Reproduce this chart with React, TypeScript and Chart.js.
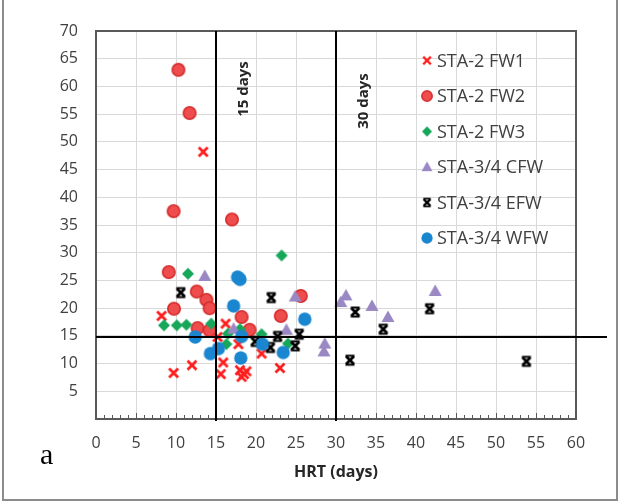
import React, { useEffect, useRef } from 'react';
import { Chart, registerables } from 'chart.js';

Chart.register(...registerables);

// ---- data ----
const seriesLabels = ['STA-2 FW1', 'STA-2 FW2', 'STA-2 FW3', 'STA-3/4 CFW', 'STA-3/4 EFW', 'STA-3/4 WFW'];

const fw1X = [13.4, 8.2, 16.2, 9.7, 12.0, 15.9, 15.6, 17.8, 18.0, 18.5, 18.2, 18.8, 20.7, 23.0, 15.2];
const fw1Y = [48.2, 18.6, 17.2, 8.3, 9.7, 10.2, 8.1, 13.5, 8.8, 8.1, 7.6, 8.6, 11.8, 9.2, 14.8];

const fw2X = [10.3, 11.7, 9.7, 17.0, 9.1, 12.6, 13.8, 14.2, 9.75, 12.7, 14.2, 18.2, 23.1, 25.6, 19.2];
const fw2Y = [63.0, 55.2, 37.5, 36.0, 26.5, 23.0, 21.5, 20.0, 19.9, 16.4, 16.0, 18.4, 18.6, 22.2, 16.1];

const fw3X = [11.5, 8.5, 10.1, 11.3, 14.4, 16.5, 16.3, 18.0, 20.7, 23.2, 24.0];
const fw3Y = [26.2, 16.9, 16.9, 17.0, 17.2, 15.4, 13.5, 16.2, 15.3, 29.5, 13.6];

const cfwX = [13.6, 17.2, 24.9, 23.8, 28.6, 28.5, 30.6, 31.25, 34.5, 36.5, 42.4];
const cfwY = [25.8, 16.3, 22.1, 16.1, 13.6, 12.2, 21.1, 22.3, 20.4, 18.4, 23.1];

const efwX = [10.6, 21.9, 22.7, 25.4, 19.9, 21.8, 24.9, 32.4, 35.9, 41.7, 31.75, 53.8];
const efwY = [22.8, 21.9, 14.9, 15.3, 14.0, 12.9, 13.2, 19.3, 16.2, 19.9, 10.6, 10.4];

const wfwX = [12.4, 14.3, 15.3, 17.7, 18.0, 17.2, 26.1, 18.2, 20.8, 23.4, 18.1];
const wfwY = [14.8, 11.8, 12.7, 25.6, 25.2, 20.4, 18.0, 14.9, 13.5, 12.0, 11.0];

const hrtLines = [15, 30];
const hrtLineLabels = ['15 days', '30 days'];
const thresholdY = 14.8;

const xTickMin = 0;
const xTickMax = 60;
const yTickMin = 0;
const yTickMax = 70;
const tickStep = 5;

// ---- markers ----
function makeMarker(kind: string): HTMLCanvasElement {
  const c = document.createElement('canvas');
  const s = 16;
  c.width = s;
  c.height = s;
  const g = c.getContext('2d') as CanvasRenderingContext2D;
  const m = s / 2;
  g.lineCap = 'butt';
  if (kind === 'x') {
    g.strokeStyle = '#FF1E1E';
    g.lineWidth = 2.8;
    g.beginPath();
    g.moveTo(m - 4.5, m - 4.5); g.lineTo(m + 4.5, m + 4.5);
    g.moveTo(m + 4.5, m - 4.5); g.lineTo(m - 4.5, m + 4.5);
    g.stroke();
  } else if (kind === 'redCircle') {
    g.fillStyle = '#EF4D4D';
    g.strokeStyle = '#D52C2C';
    g.lineWidth = 1.6;
    g.beginPath();
    g.arc(m, m, 6.2, 0, Math.PI * 2);
    g.fill();
    g.stroke();
  } else if (kind === 'diamond') {
    g.fillStyle = '#17A75A';
    g.beginPath();
    g.moveTo(m, m - 6); g.lineTo(m + 6, m); g.lineTo(m, m + 6); g.lineTo(m - 6, m);
    g.closePath();
    g.fill();
  } else if (kind === 'triangle') {
    g.fillStyle = '#9A88C4';
    g.beginPath();
    g.moveTo(m, m - 6.5); g.lineTo(m + 6.5, m + 5); g.lineTo(m - 6.5, m + 5);
    g.closePath();
    g.fill();
  } else if (kind === 'star') {
    g.strokeStyle = '#000';
    g.lineWidth = 2.8;
    g.beginPath();
    g.moveTo(m - 4, m - 4); g.lineTo(m + 4, m + 4);
    g.moveTo(m + 4, m - 4); g.lineTo(m - 4, m + 4);
    g.stroke();
    g.lineWidth = 2;
    g.beginPath();
    g.moveTo(m - 4.5, m - 4.5); g.lineTo(m + 4.5, m - 4.5);
    g.moveTo(m - 4.5, m + 4.5); g.lineTo(m + 4.5, m + 4.5);
    g.stroke();
  } else {
    g.fillStyle = '#1A86CF';
    g.beginPath();
    g.arc(m, m, 6.7, 0, Math.PI * 2);
    g.fill();
  }
  return c;
}

const markerKinds = ['x', 'redCircle', 'diamond', 'triangle', 'star', 'blueCircle'];

function pts(xs: number[], ys: number[]) {
  return xs.map((x, i) => ({ x, y: ys[i] }));
}

const TICK_FONT = { family: '"Open Sans", sans-serif', size: 16 };

export default function App() {
  const ref = useRef<HTMLCanvasElement | null>(null);

  useEffect(() => {
    const canvas = ref.current;
    if (!canvas) return;
    const markers = markerKinds.map(makeMarker);
    const allX = [fw1X, fw2X, fw3X, cfwX, efwX, wfwX];
    const allY = [fw1Y, fw2Y, fw3Y, cfwY, efwY, wfwY];

    const decor = {
      id: 'decor',
      afterDatasetsDraw(chart: any) {
        const { ctx, chartArea: a, scales } = chart;
        const x = scales.x;
        const y = scales.y;
        ctx.save();
        // minor/major ticks inside bottom axis
        ctx.strokeStyle = '#595959';
        ctx.lineWidth = 1;
        ctx.beginPath();
        for (let v = xTickMin; v <= xTickMax; v++) {
          const px = Math.round(x.getPixelForValue(v)) + 0.5;
          const len = v % tickStep === 0 ? 6 : 4;
          ctx.moveTo(px, a.bottom);
          ctx.lineTo(px, a.bottom - len);
        }
        ctx.stroke();
        // plot frame
        ctx.strokeStyle = '#595959';
        ctx.lineWidth = 2;
        ctx.strokeRect(a.left, a.top, a.right - a.left, a.bottom - a.top);
        // reference lines
        ctx.strokeStyle = '#000';
        ctx.lineWidth = 2;
        ctx.beginPath();
        hrtLines.forEach((v) => {
          const px = x.getPixelForValue(v);
          ctx.moveTo(px, a.top);
          ctx.lineTo(px, a.bottom + 2);
        });
        const py = y.getPixelForValue(thresholdY);
        ctx.moveTo(a.left, py);
        ctx.lineTo(a.right + 31, py);
        ctx.stroke();
        // rotated labels
        ctx.fillStyle = '#262626';
        ctx.font = 'bold 15px "Open Sans", sans-serif';
        ctx.textAlign = 'center';
        ctx.textBaseline = 'middle';
        const labelY = [89, 101];
        hrtLines.forEach((v, i) => {
          const px = x.getPixelForValue(v) + 28;
          ctx.save();
          ctx.translate(px, labelY[i]);
          ctx.rotate(-Math.PI / 2);
          ctx.fillText(hrtLineLabels[i], 0, 0);
          ctx.restore();
        });
        // legend
        ctx.font = '18px "Open Sans", sans-serif';
        ctx.fillStyle = '#404040';
        ctx.textAlign = 'left';
        ctx.textBaseline = 'middle';
        seriesLabels.forEach((lab, i) => {
          const ly = 60.5 + i * 35.5;
          const mk = markers[i];
          const sz = 13.5;
          ctx.drawImage(mk, 427 - sz / 2, ly - sz / 2, sz, sz);
          ctx.fillText(lab, 437, ly + 1);
        });
        // panel letter
        ctx.fillStyle = '#000';
        ctx.font = '30px "Liberation Serif", serif';
        ctx.textBaseline = 'alphabetic';
        ctx.fillText('a', 40, 464);
        // outer frame
        ctx.strokeStyle = '#8c8c8c';
        ctx.lineWidth = 2;
        ctx.beginPath();
        ctx.moveTo(3, 0);
        ctx.lineTo(3, 500);
        ctx.lineTo(617, 500);
        ctx.lineTo(617, 0);
        ctx.stroke();
        ctx.restore();
      },
    };

    const chart = new Chart(canvas, {
      type: 'scatter',
      data: {
        datasets: seriesLabels.map((label, i) => ({
          label,
          data: pts(allX[i], allY[i]),
          pointStyle: markers[i] as any,
          pointRadius: 7,
          showLine: false,
          order: 6 - i,
        })),
      },
      options: {
        responsive: false,
        animation: false,
        layout: { padding: { top: 31, right: 52, left: 0, bottom: 0 } },
        plugins: { legend: { display: false }, tooltip: { enabled: false } },
        scales: {
          x: {
            type: 'linear',
            min: xTickMin,
            max: xTickMax,
            ticks: { stepSize: tickStep, padding: 15, font: TICK_FONT, color: '#404040' },
            grid: { color: '#d9d9d9', drawTicks: false, lineWidth: 1 },
            border: { display: false },
            title: {
              display: true,
              text: 'HRT (days)',
              color: '#262626',
              font: { family: '"Open Sans", sans-serif', size: 16, weight: 'bold' },
              padding: { top: 0, bottom: 22 },
            },
            afterFit: (s: any) => { s.height = 85; },
          },
          y: {
            type: 'linear',
            min: yTickMin,
            max: yTickMax,
            ticks: {
              stepSize: tickStep,
              padding: 18,
              font: TICK_FONT,
              color: '#404040',
              callback: (v: any) => (v === 0 ? '' : String(v)),
            },
            grid: { color: '#d9d9d9', drawTicks: false, lineWidth: 1 },
            border: { display: false },
            afterFit: (s: any) => { s.width = 96; },
          },
        },
      },
      plugins: [decor],
    });
    return () => chart.destroy();
  }, []);

  return (
    <div style={{ position: 'fixed', left: 0, top: 0, width: 628, height: 504, background: '#fff' }}>
      <canvas ref={ref} width={628} height={504} style={{ display: 'block' }} />
    </div>
  );
}
